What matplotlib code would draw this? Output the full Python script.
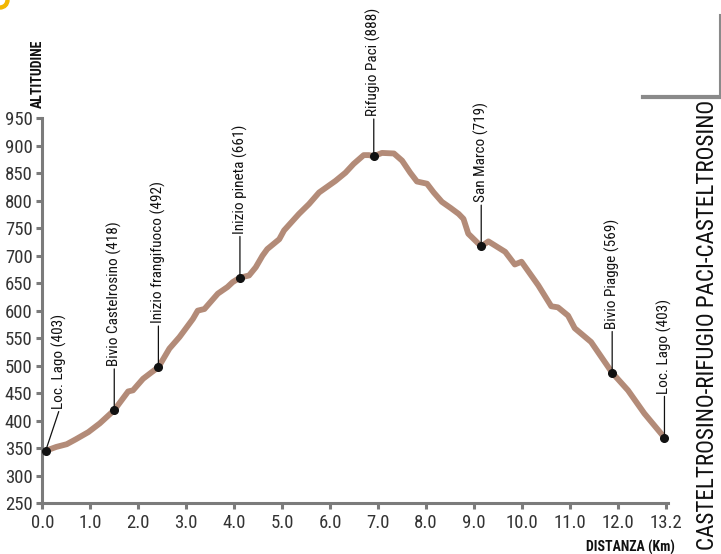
import matplotlib
matplotlib.use('Agg')
import matplotlib.pyplot as plt
from matplotlib import font_manager
from matplotlib.patches import Wedge

# font stretta se disponibile
disponibili = {f.name for f in font_manager.fontManager.ttflist}
stretto = 'DejaVu Sans'
for nome in ['Roboto Condensed', 'Liberation Sans Narrow', 'Open Sans Condensed']:
    if nome in disponibili:
        stretto = nome
        break
plt.rcParams['font.family'] = [stretto, 'DejaVu Sans']

###
### Dati del profilo (posizione sull'asse, altitudine)
###
distanza = [0.07, 0.29, 0.51, 0.70, 0.78, 0.96, 1.20, 1.50, 1.79, 1.89,
            2.10, 2.28, 2.42, 2.65, 2.86, 3.14, 3.24, 3.38, 3.66, 3.86,
            3.97, 4.12, 4.31, 4.45, 4.59, 4.69, 4.94, 5.04, 5.35, 5.56,
            5.77, 6.11, 6.32, 6.49, 6.70, 6.81, 6.91, 7.08, 7.33, 7.50,
            7.67, 7.81, 8.02, 8.16, 8.33, 8.51, 8.68, 8.78, 8.88, 9.15,
            9.30, 9.65, 9.85, 9.99, 10.34, 10.61, 10.75, 10.96, 11.10, 11.44,
            11.88, 12.21, 12.55, 12.97]
altitudine = [345, 352, 357, 366, 370, 379, 395, 419, 453, 455,
              476, 488, 497, 531, 552, 585, 600, 603, 631, 643,
              652, 660, 664, 679, 700, 712, 730, 746, 776, 794,
              815, 836, 851, 867, 883, 883, 881, 887, 886, 873,
              851, 835, 831, 815, 798, 787, 776, 767, 740, 717,
              726, 707, 684, 689, 646, 608, 606, 591, 568, 543,
              487, 455, 413, 369]

# punti notevoli: indice nel profilo, etichetta
punti_idx = [0, 7, 12, 21, 36, 49, 60, 63]
punti_nome = ['Loc. Lago (403)', 'Bivio Castelrosino (418)', 'Inizio frangifuoco (492)',
              'Inizio pineta (661)', 'Rifugio Paci (888)', 'San Marco (719)',
              'Bivio Piagge (569)', 'Loc. Lago (403)']

x_tick = list(range(14))
x_tick_label = ['0.0', '1.0', '2.0', '3.0', '4.0', '5.0', '6.0', '7.0', '8.0',
                '9.0', '10.0', '11.0', '12.0', '13.2']
y_tick = list(range(250, 951, 50))

colore_linea = '#b38b78'
grigio = '#7b7b7b'

fig = plt.figure(figsize=(7.21, 5.54), dpi=100)
ax = fig.add_axes([42.3 / 721, 1 - 503 / 554, 626 / 721, (503 - 118.3) / 554])

ax.plot(distanza, altitudine, color=colore_linea, lw=4.2, solid_capstyle='round',
        solid_joinstyle='round', zorder=2)

px = [distanza[i] for i in punti_idx]
py = [altitudine[i] for i in punti_idx]
ax.plot(px, py, 'o', color='#111111', ms=5.5, zorder=3)

###
### Etichette con linea di richiamo (offset in pixel)
###
for k in range(len(punti_idx)):
    dx = 0
    dy = 44
    if k == 0:
        dx = 14
        dy = 42
    if k == 4:
        dy = 40
    ax.annotate(punti_nome[k], xy=(px[k], py[k]), xytext=(dx, dy),
                textcoords='offset pixels', rotation=90, ha='center', va='bottom',
                fontsize=11, color='#111111',
                arrowprops=dict(arrowstyle='-', color='#111111', lw=0.9,
                                shrinkA=0, shrinkB=0, relpos=(0.5, 0.0)))

ax.set_xlim(0, 13.05)
ax.set_ylim(250, 950)
ax.set_xticks(x_tick)
ax.set_xticklabels(x_tick_label)
ax.set_yticks(y_tick)

for s in ['top', 'right']:
    ax.spines[s].set_visible(False)
for s in ['left', 'bottom']:
    ax.spines[s].set_color(grigio)
    ax.spines[s].set_linewidth(2.2)
ax.spines['left'].set_bounds(250, 950)
ax.tick_params(axis='both', colors=grigio, width=2.2, length=4, labelsize=13.5,
               labelcolor='#333333')
ax.tick_params(axis='y', pad=3)
ax.tick_params(axis='x', pad=4)

# titoli assi
fig.text(38 / 721, 1 - 108 / 554, 'ALTITUDINE', rotation=90, ha='center', va='bottom',
         fontsize=10, fontweight='bold', color='#111111')
fig.text(675 / 721, 1 - 547 / 554, 'DISTANZA (Km)', ha='right', va='center',
         fontsize=10, fontweight='bold', color='#111111')

# titolo verticale
fig.text(708 / 721, 4 / 554, 'CASTELTROSINO-RIFUGIO PACI-CASTELTROSINO', rotation=90,
         ha='center', va='bottom', fontsize=16.6, color='#111111')

# cornice grigia in alto a destra
fig.add_artist(plt.Line2D([643 / 721, 720 / 721], [1 - 97 / 554, 1 - 97 / 554],
                          transform=fig.transFigure, color='#8a8a8a', lw=3))
fig.add_artist(plt.Line2D([719.5 / 721, 719.5 / 721], [1 - 15 / 554, 1 - 97 / 554],
                          transform=fig.transFigure, color='#8a8a8a', lw=1.5))

# angolo giallo
fig.add_artist(Wedge((0, 554), 9, 270, 360, width=3, transform=None,
                     color='#f2b700'))

fig.savefig('out.png', dpi=100)
